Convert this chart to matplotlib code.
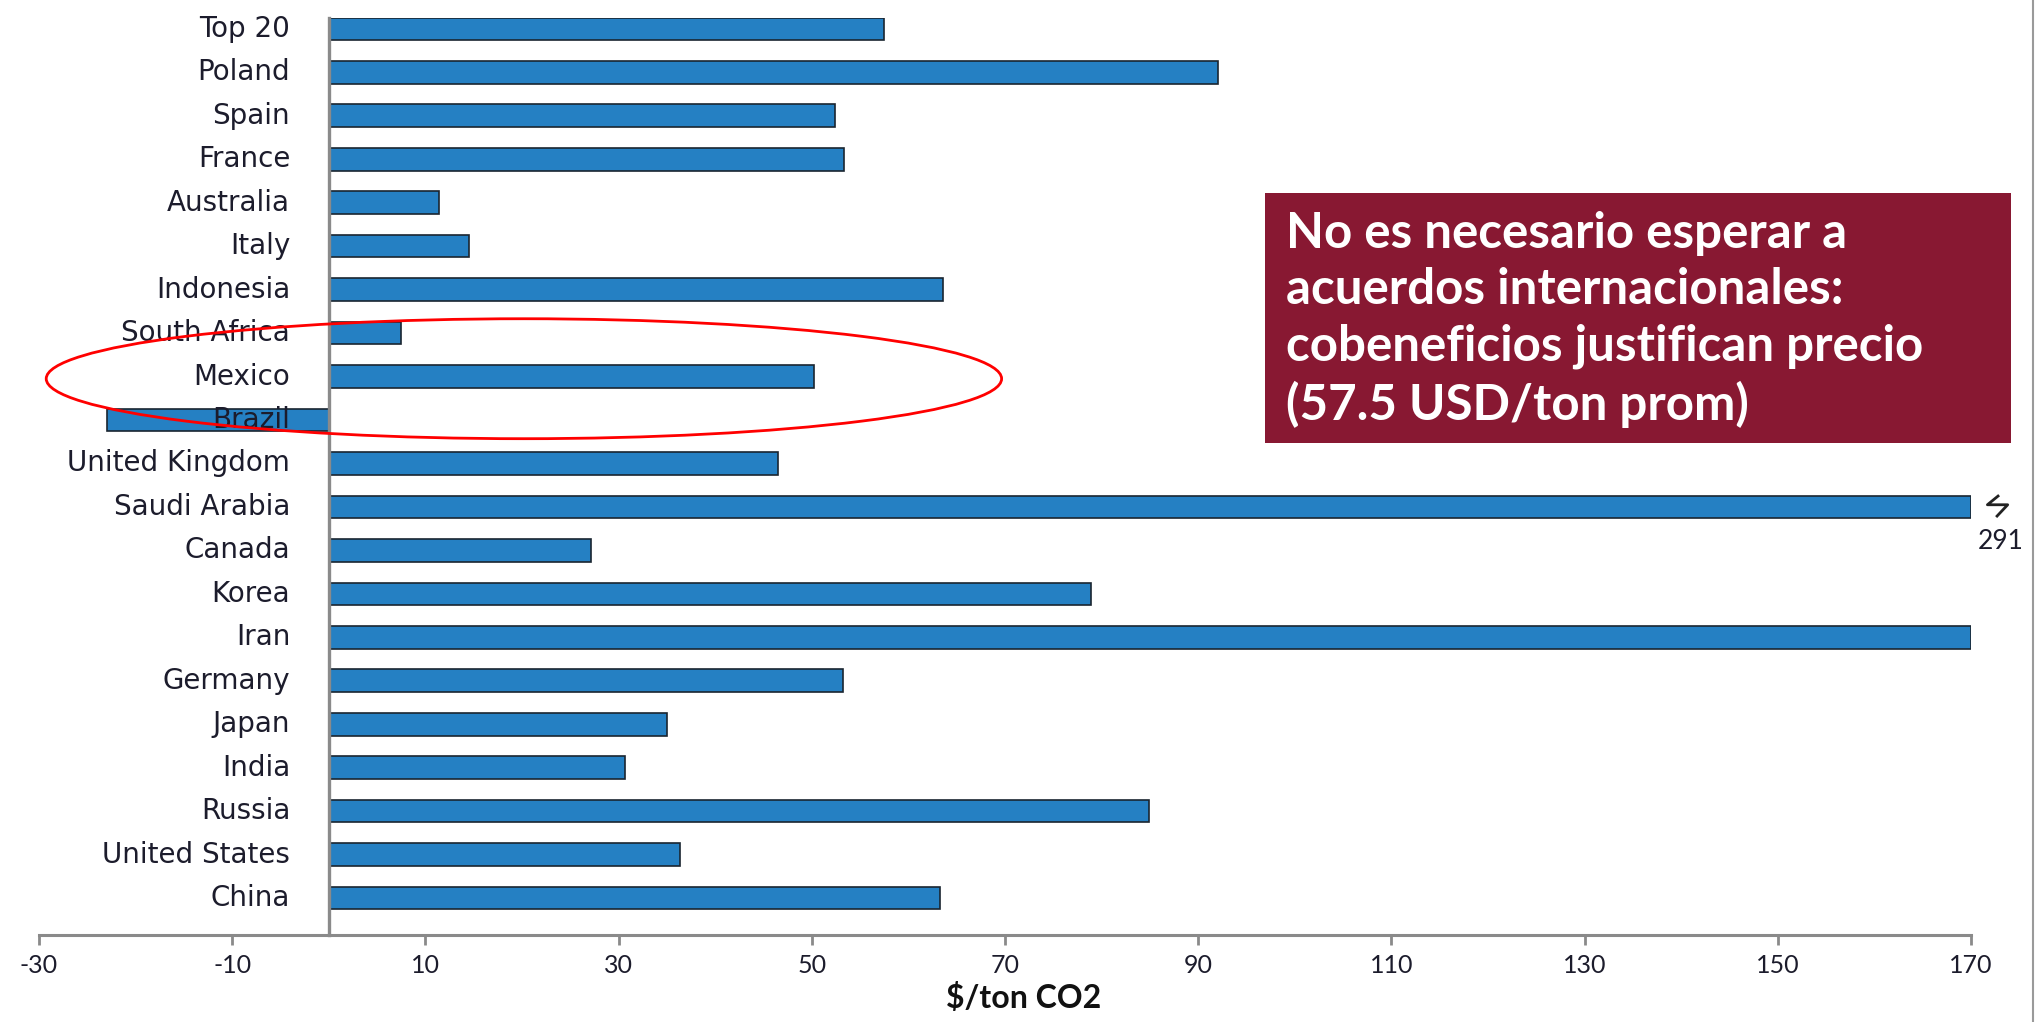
import numpy as np
import matplotlib
matplotlib.use("Agg")
import matplotlib.pyplot as plt
from matplotlib.patches import Ellipse, Rectangle
from matplotlib.lines import Line2D

plt.rcParams["axes.unicode_minus"] = False

# countries, top to bottom as shown
countries = ["Top 20", "Poland", "Spain", "France", "Australia", "Italy", "Indonesia",
             "South Africa", "Mexico", "Brazil", "United Kingdom", "Saudi Arabia",
             "Canada", "Korea", "Iran", "Germany", "Japan", "India", "Russia",
             "United States", "China"]
values = [57.5, 92.1, 52.4, 53.3, 11.4, 14.5, 63.6, 7.5, 50.2, -23.0, 46.5, 291,
          27.1, 78.9, 170, 53.2, 35.0, 30.7, 84.9, 36.4, 63.3]
xticks = [-30, -10, 10, 30, 50, 70, 90, 110, 130, 150, 170]
xmax = 170

note = ("No es necesario esperar a\nacuerdos internacionales:\n"
        "cobeneficios justifican precio\n(57.5 USD/ton prom)")

bar_color = "#2580c3"
axis_gray = "#8a8a8a"
txt_color = "#1c1c2c"

fig = plt.figure(figsize=(20.41, 10.22), dpi=100)
ax = fig.add_axes([0.0191, 0.0851, 0.9466, 0.8973])

y = np.arange(len(countries))[::-1]
shown = np.minimum(values, xmax)
ax.barh(y, shown, height=0.52, color=bar_color, edgecolor="#1a2530",
        linewidth=1.2, zorder=2)

ax.set_xlim(-30, xmax)
ax.set_ylim(-0.85, 20.25)

# spines: zero line as left spine, gray bottom axis
for s in ["top", "right"]:
    ax.spines[s].set_visible(False)
ax.spines["left"].set_position(("data", 0))
ax.spines["left"].set_color(axis_gray)
ax.spines["left"].set_linewidth(2.4)
ax.spines["left"].set_zorder(3)
ax.spines["bottom"].set_color(axis_gray)
ax.spines["bottom"].set_linewidth(2.2)
ax.set_yticks([])
ax.set_xticks(xticks)
ax.tick_params(axis="x", direction="out", length=7, width=2, color=axis_gray,
               pad=7, labelsize=18, labelcolor=txt_color)
for lab in ax.get_xticklabels():
    lab.set_fontfamily("Lato")

# category labels next to the zero line
for yi, name in zip(y, countries):
    ax.text(-4.0, yi, name, ha="right", va="center", fontsize=20,
            family="DejaVu Sans", color=txt_color, zorder=5)

# break mark and true value for the clipped bar
sa = y[countries.index("Saudi Arabia")]
ax.plot([172.8, 171.7, 173.8, 172.7], [sa + 0.25, sa + 0.05, sa + 0.05, sa - 0.21],
        color="#222222", lw=2, clip_on=False, zorder=5)
ax.text(173.1, sa - 0.8, "291", ha="center", va="center", fontsize=19,
        family="Lato", color=txt_color, clip_on=False)

# highlight Mexico
mx = y[countries.index("Mexico")]
ax.add_patch(Ellipse((20.2, mx - 0.05), 98.9, 2.76, fill=False, edgecolor="red",
                     linewidth=2, clip_on=False, zorder=6))

fig.text(1024 / 2041, 1 - 998 / 1022, "$/ton CO2", ha="center", va="center",
         fontsize=23, fontweight="bold", family="Lato", color="#111111")

# message box
fig.patches.append(Rectangle((1265 / 2041, 1 - 443 / 1022), 746 / 2041, 250 / 1022,
                             transform=fig.transFigure, facecolor="#881832",
                             edgecolor="none", zorder=5))
fig.text(1286 / 2041, 1 - 211 / 1022, note, ha="left", va="top", fontsize=35.5,
         fontweight="bold", family="Lato", color="white", linespacing=1.3, zorder=6)

# slide border on the right
fig.add_artist(Line2D([2033 / 2041, 2033 / 2041], [0, 1], color="#9a9a9a", lw=1.5,
                      transform=fig.transFigure))

fig.savefig("out.png", dpi=100)
